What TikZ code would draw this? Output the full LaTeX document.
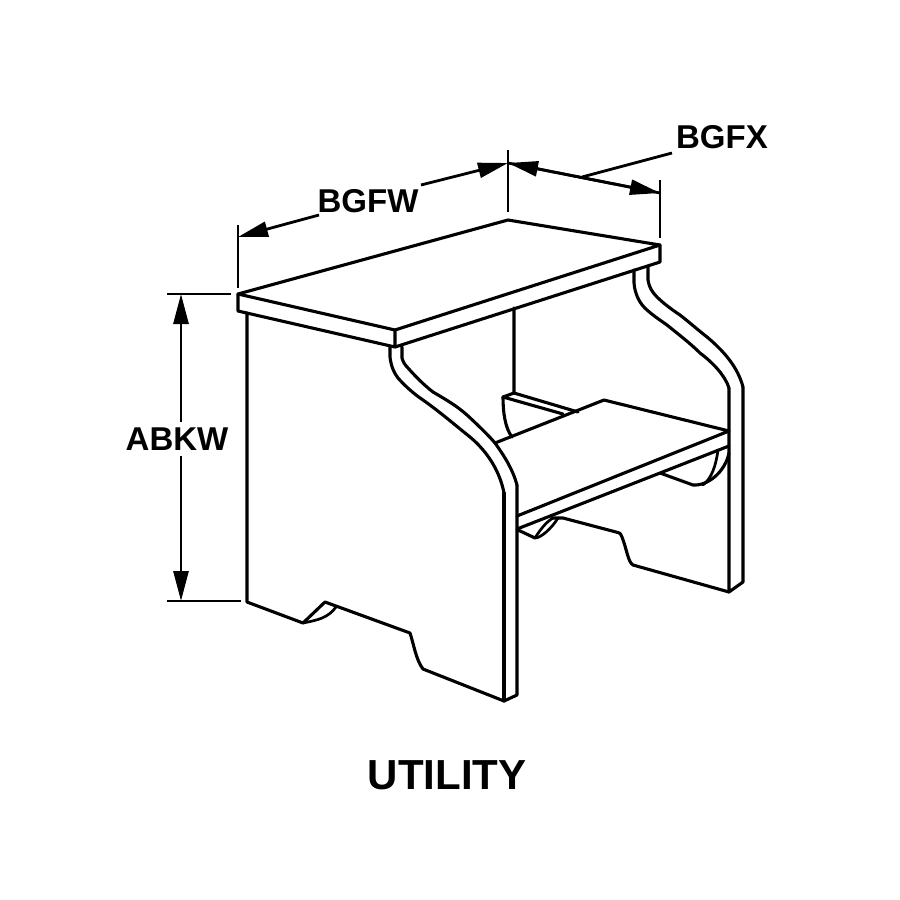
\documentclass[tikz,border=0pt]{standalone}
\usepackage{fontspec}
\setmainfont{Liberation Sans}
\usetikzlibrary{arrows.meta}
\tikzset{
  part/.style={line width=3.1pt,line join=round,line cap=round},
  thin part/.style={line width=2.7pt,line join=round,line cap=round},
  ext/.style={line width=2.8pt},
  dim/.style={line width=2.8pt,-{Triangle[length=30pt,width=15pt]},shorten >=0pt},
  lab/.style={font=\fontsize{33}{33}\selectfont\bfseries,inner sep=0pt,text=black},
  title/.style={font=\fontsize{42}{42}\selectfont\bfseries,inner sep=0pt,text=black}
}
\begin{document}
\begin{tikzpicture}[x=1pt,y=-1pt]
\useasboundingbox (0,0) rectangle (900,900);
% seat
\draw[part] (238,294) -- (508,220) -- (660,245) -- (395,330) -- cycle;
\draw[part] (238,294) -- (238,311) -- (395,347) -- (395,330);
\draw[part] (395,347) -- (660,262) -- (660,245);
% left panel
\draw[part] (247,313) -- (247,602) -- (303,623) -- (325,602) -- (410,633)
  .. controls (414,645) and (416,660) .. (423,669) -- (504,701) -- (517,695) -- (517,485);
\draw[part] (504,701) -- (504,493);
\draw[thin part] (303,623) .. controls (318,620) and (328,618) .. (336,607);
\draw[part] (390,347) -- (390,357) .. controls (391,366) and (394,373) .. (398,378)
  .. controls (405,386) and (414,394) .. (423,400) .. controls (440,412) and (455,425) .. (470,437)
  .. controls (488,452) and (500,472) .. (504,493);
\draw[part] (402,347) -- (402,358) .. controls (403,362) and (405,365) .. (408,368)
  .. controls (416,377) and (424,385) .. (433,392) .. controls (445,399) and (457,406) .. (467,415)
  .. controls (480,427) and (490,437) .. (495,443) .. controls (505,457) and (513,470) .. (517,485);
% right panel
\draw[part] (634,270) -- (634,283) .. controls (635,295) and (640,304) .. (647,310)
  .. controls (655,317) and (660,320) .. (667,325) .. controls (678,334) and (690,343) .. (700,353)
  .. controls (712,362) and (725,375) .. (729,388);
\draw[part] (648,267) -- (648,280) .. controls (649,287) and (652,292) .. (657,297)
  .. controls (663,303) and (671,309) .. (680,315) .. controls (689,322) and (698,330) .. (707,337)
  .. controls (725,352) and (738,368) .. (743,387);
\draw[part] (729,388) -- (729,592) -- (743,582) -- (743,387);
\draw[part] (729,592) -- (633,565) .. controls (628,562) and (627,550) .. (622,537)
  .. controls (620,532) and (619,533) .. (616,532) -- (563,518) -- (552,518);
\draw[part] (518,530) -- (535,538);
\draw[thin part] (535,538) .. controls (541,538) and (552,528) .. (558,518);
\draw[thin part] (535,538) .. controls (540,530) and (546,522) .. (553,518);
% step
\draw[part] (495,443) -- (604,400) -- (729,431) -- (517,516);
\draw[part] (729,446) -- (517,529);
% rear
\draw[part] (514,308) -- (514,393) -- (578,412);
\draw[part] (514,393) -- (503,397) -- (563,414);
\draw[part] (503,397) .. controls (503,412) and (505,428) .. (512,437);
\draw[part] (660,473) -- (693,485) .. controls (708,486) and (725,472) .. (729,453);
\draw[thin part] (718,450) .. controls (716,465) and (712,478) .. (703,485);
% dimension coordinates
\coordinate (a1) at (167,294);
\coordinate (a2) at (231,294);
\coordinate (b1) at (167,601);
\coordinate (b2) at (241,601);
\coordinate (aT) at (181,294);
\coordinate (aB) at (181,601);
\coordinate (t1a) at (238,225);
\coordinate (t1b) at (238,288);
\coordinate (t2a) at (508,150);
\coordinate (t2b) at (508,212);
\coordinate (t3a) at (660,180);
\coordinate (t3b) at (660,238);
\coordinate (wL) at (238,237);
\coordinate (wR) at (508,163);
\coordinate (xL) at (508,163);
\coordinate (xR) at (660,193);
\coordinate (wLs) at (319,215);
\coordinate (wRs) at (421,185);
\coordinate (xLead) at (582,177);
\coordinate (xLeadEnd) at (672,153);
\coordinate (aTs) at (181,422);
\coordinate (aBs) at (181,456);
\node[lab] (abkw) at (177,439) {ABKW};
\node[lab] (bgfw) at (368,201) {BGFW};
\node[lab] (bgfx) at (722,137) {BGFX};
\node[title] (utility) at (447,775) {UTILITY};
\draw[ext] (a1) -- (a2);
\draw[ext] (b1) -- (b2);
\draw[ext] (t1a) -- (t1b);
\draw[ext] (t2a) -- (t2b);
\draw[ext] (t3a) -- (t3b);
\draw[dim] (aTs) -- (aT);
\draw[dim] (aBs) -- (aB);
\draw[dim] (wLs) -- (wL);
\draw[dim] (wRs) -- (wR);
\draw[dim] (xR) -- (xL);
\draw[dim] (xL) -- (xR);
\draw[ext] (xLead) -- (xLeadEnd);
\end{tikzpicture}
\end{document}
